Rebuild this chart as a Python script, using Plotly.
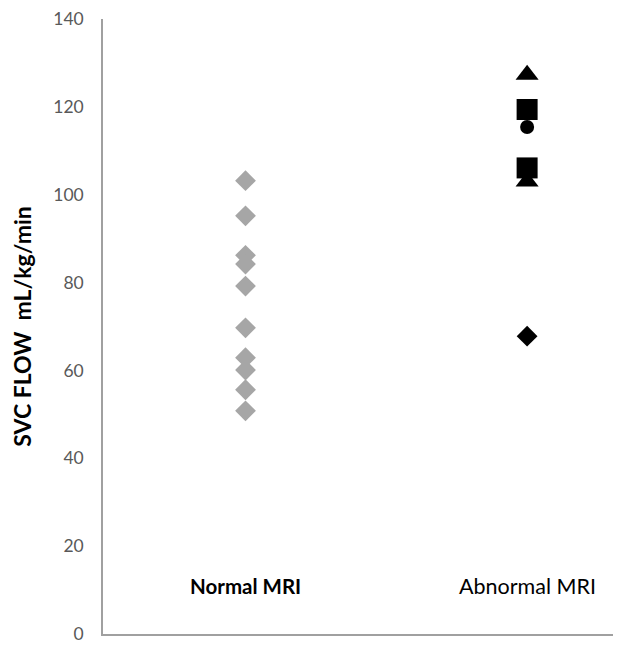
import plotly.graph_objects as go

# ---- data ----
categories = ["Normal MRI", "Abnormal MRI"]
normal_values = [103.2, 95.2, 86.2, 84.2, 79.2, 69.7, 62.9, 60.1, 55.6, 50.8]
abnormal_values = [127.3, 103.0, 119.4, 106.1, 115.4, 67.8]
abnormal_symbols = ["triangle-up", "triangle-up", "square", "square", "circle", "diamond"]
y_ticks = [0, 20, 40, 60, 80, 100, 120, 140]
y_title = "SVC FLOW \u00a0mL/kg/min"

# ---- styles ----
symbol_size = {"triangle-up": 20, "square": 21, "circle": 14, "diamond": 16}
FONT = "Lato"

fig = go.Figure()
fig.add_trace(go.Scatter(
    x=[categories[0]] * len(normal_values), y=normal_values, mode="markers",
    opacity=1,
    marker=dict(symbol="diamond", size=16, color="#A6A6A6", opacity=1, line=dict(width=0)),
    showlegend=False, hoverinfo="y"))
fig.add_trace(go.Scatter(
    x=[categories[1]] * len(abnormal_values), y=abnormal_values, mode="markers",
    opacity=1,
    marker=dict(symbol=abnormal_symbols,
                size=[symbol_size[s] for s in abnormal_symbols],
                color="#000000", opacity=1, line=dict(width=0, color="#000000")),
    showlegend=False, hoverinfo="y"))

fig.add_annotation(x=categories[0], y=11, xref="x", yref="y", text="<b>Normal MRI</b>",
                   showarrow=False, font=dict(family=FONT, size=20.5, color="#000000"))
fig.add_annotation(x=categories[1], y=11, xref="x", yref="y", text="Abnormal MRI",
                   showarrow=False, font=dict(family=FONT, size=21.5, color="#000000"))

# page body has an 8px margin: figure is offset by 8px in the window
fig.update_layout(
    width=613, height=642,
    margin=dict(l=95, r=8, t=11, b=16, autoexpand=False),
    paper_bgcolor="white", plot_bgcolor="white",
    font=dict(family=FONT),
    xaxis=dict(type="category", categoryorder="array", categoryarray=categories,
               range=[-0.506, 1.305], showgrid=False, zeroline=False,
               showline=True, linecolor="#A0A0A0", linewidth=1.5,
               showticklabels=False, ticks="", automargin=False),
    yaxis=dict(range=[0, 140], tickvals=y_ticks, showgrid=False, zeroline=False,
               showline=True, linecolor="#A0A0A0", linewidth=1.5, ticks="",
               automargin=False, ticklabelstandoff=14, ticklabeloverflow="allow",
               tickfont=dict(family=FONT, size=17.5, color="#595959"),
               title=dict(text="<b>" + y_title + "</b>", standoff=31,
                          font=dict(family=FONT, size=23, color="#000000"))),
)

fig.write_html("out.html")
